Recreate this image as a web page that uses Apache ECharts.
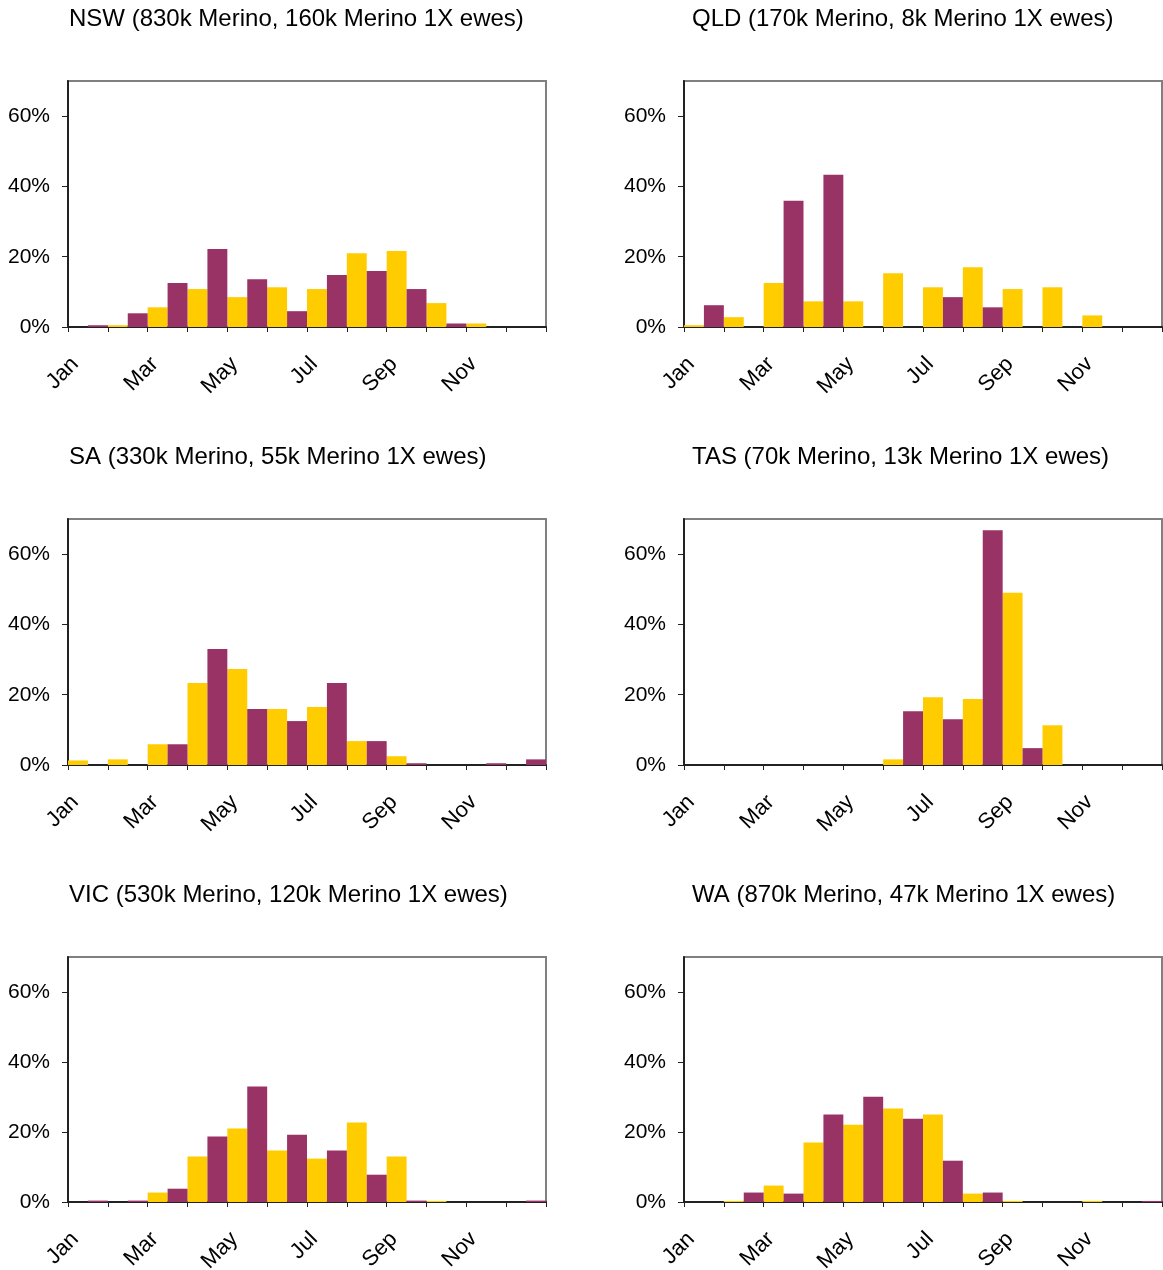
<!DOCTYPE html>
<html>
<head>
<meta charset="utf-8">
<script src="https://cdn.jsdelivr.net/npm/echarts@6/dist/echarts.min.js"></script>
<style>
html,body{margin:0;padding:0;background:#fff;}
#chart{width:1163px;height:1270px;}
</style>
</head>
<body>
<div id="chart"></div>
<script>
var months = ['Jan','Feb','Mar','Apr','May','Jun','Jul','Aug','Sep','Oct','Nov','Dec'];
var yTicks = [0, 20, 40, 60];

var titles = [
  'NSW (830k Merino, 160k Merino 1X ewes)',
  'QLD (170k Merino, 8k Merino 1X ewes)',
  'SA (330k Merino, 55k Merino 1X ewes)',
  'TAS (70k Merino, 13k Merino 1X ewes)',
  'VIC (530k Merino, 120k Merino 1X ewes)',
  'WA (870k Merino, 47k Merino 1X ewes)'
];

// yellow series (left bar in each month), purple series (right bar)
var nswYellow = [0, 0.5, 5.6, 10.8, 8.5, 11.3, 10.8, 21.0, 21.6, 6.8, 1.0, 0];
var nswPurple = [0.5, 3.9, 12.5, 22.2, 13.6, 4.5, 14.8, 15.9, 10.8, 1.0, 0, 0];
var qldYellow = [0.5, 2.8, 12.5, 7.3, 7.3, 15.3, 11.3, 17.0, 10.8, 11.3, 3.3, 0];
var qldPurple = [6.2, 0, 35.9, 43.3, 0, 0, 8.5, 5.6, 0, 0, 0, 0];
var saYellow  = [1.3, 1.6, 5.9, 23.3, 27.3, 15.9, 16.5, 6.8, 2.5, 0, 0, 0];
var saPurple  = [0, 0, 5.9, 33.0, 15.9, 12.5, 23.3, 6.8, 0.5, 0, 0.5, 1.6];
var tasYellow = [0, 0, 0, 0, 0, 1.6, 19.3, 18.8, 49.0, 11.3, 0, 0];
var tasPurple = [0, 0, 0, 0, 0, 15.3, 13.0, 66.8, 4.8, 0, 0, 0];
var vicYellow = [0, 0, 2.7, 13.0, 21.0, 14.7, 12.4, 22.7, 13.0, 0.3, 0, 0];
var vicPurple = [0.4, 0.4, 3.8, 18.7, 33.0, 19.2, 14.7, 7.8, 0.4, 0, 0, 0.4];
var waYellow  = [0, 0.3, 4.7, 17.0, 22.1, 26.7, 25.0, 2.4, 0.3, 0, 0.3, 0];
var waPurple  = [0, 2.7, 2.4, 25.0, 30.1, 23.8, 11.8, 2.7, 0, 0, 0, 0.3];

var yellowSets = [nswYellow, qldYellow, saYellow, tasYellow, vicYellow, waYellow];
var purpleSets = [nswPurple, qldPurple, saPurple, tasPurple, vicPurple, waPurple];

var FONT = 'Liberation Sans, Arial, sans-serif';
var colLeft = [68, 684];
var titleLeft = [69, 692];
var rowTop = [81, 519, 957];
var rowH = [246, 246, 245];
var titleTop = [7, 445, 883];
var W = 478;

var option = {
  backgroundColor: '#fff',
  animation: false,
  title: [], grid: [], xAxis: [], yAxis: [], series: []
};

for (var i = 0; i < 6; i++) {
  var r = Math.floor(i / 2), c = i % 2;
  option.title.push({
    text: titles[i], left: titleLeft[c], top: titleTop[r], padding: 0,
    textStyle: {fontFamily: FONT, fontSize: 24, fontWeight: 'normal', color: '#000'}
  });
  option.grid.push({
    left: colLeft[c], top: rowTop[r], width: W, height: rowH[r],
    containLabel: false, outerBoundsMode: 'none',
    show: true, borderColor: '#808080', borderWidth: 2, backgroundColor: 'transparent'
  });
  option.xAxis.push({
    type: 'category', gridIndex: i, data: months, boundaryGap: true,
    axisLine: {show: true, lineStyle: {color: '#222', width: 2}},
    axisTick: {show: true, interval: 0, alignWithLabel: false, length: 5, lineStyle: {color: '#222', width: 1}},
    axisLabel: {interval: 1, rotate: 45, margin: 21, padding: [0, 18, 0, 0],
      fontFamily: FONT, fontSize: 22, color: '#000'},
    splitLine: {show: false}
  });
  option.yAxis.push({
    type: 'value', gridIndex: i, min: 0, max: 70,
    axisLine: {show: true, lineStyle: {color: '#222', width: 2}},
    axisTick: {show: true, length: 6, customValues: yTicks, lineStyle: {color: '#222', width: 1}},
    axisLabel: {customValues: yTicks, margin: 18, formatter: '{value}%',
      fontFamily: FONT, fontSize: 21, color: '#000'},
    splitLine: {show: false}
  });
  option.series.push({
    type: 'bar', name: 'Merino', xAxisIndex: i, yAxisIndex: i,
    data: yellowSets[i], barGap: '0%', barCategoryGap: '0%',
    itemStyle: {color: '#FFCC00'}
  });
  option.series.push({
    type: 'bar', name: 'Merino 1X ewes', xAxisIndex: i, yAxisIndex: i,
    data: purpleSets[i], barGap: '0%', barCategoryGap: '0%',
    itemStyle: {color: '#993366'}
  });
}

var chart = echarts.init(document.getElementById('chart'), null, {renderer: 'canvas'});
chart.setOption(option);
</script>
</body>
</html>
